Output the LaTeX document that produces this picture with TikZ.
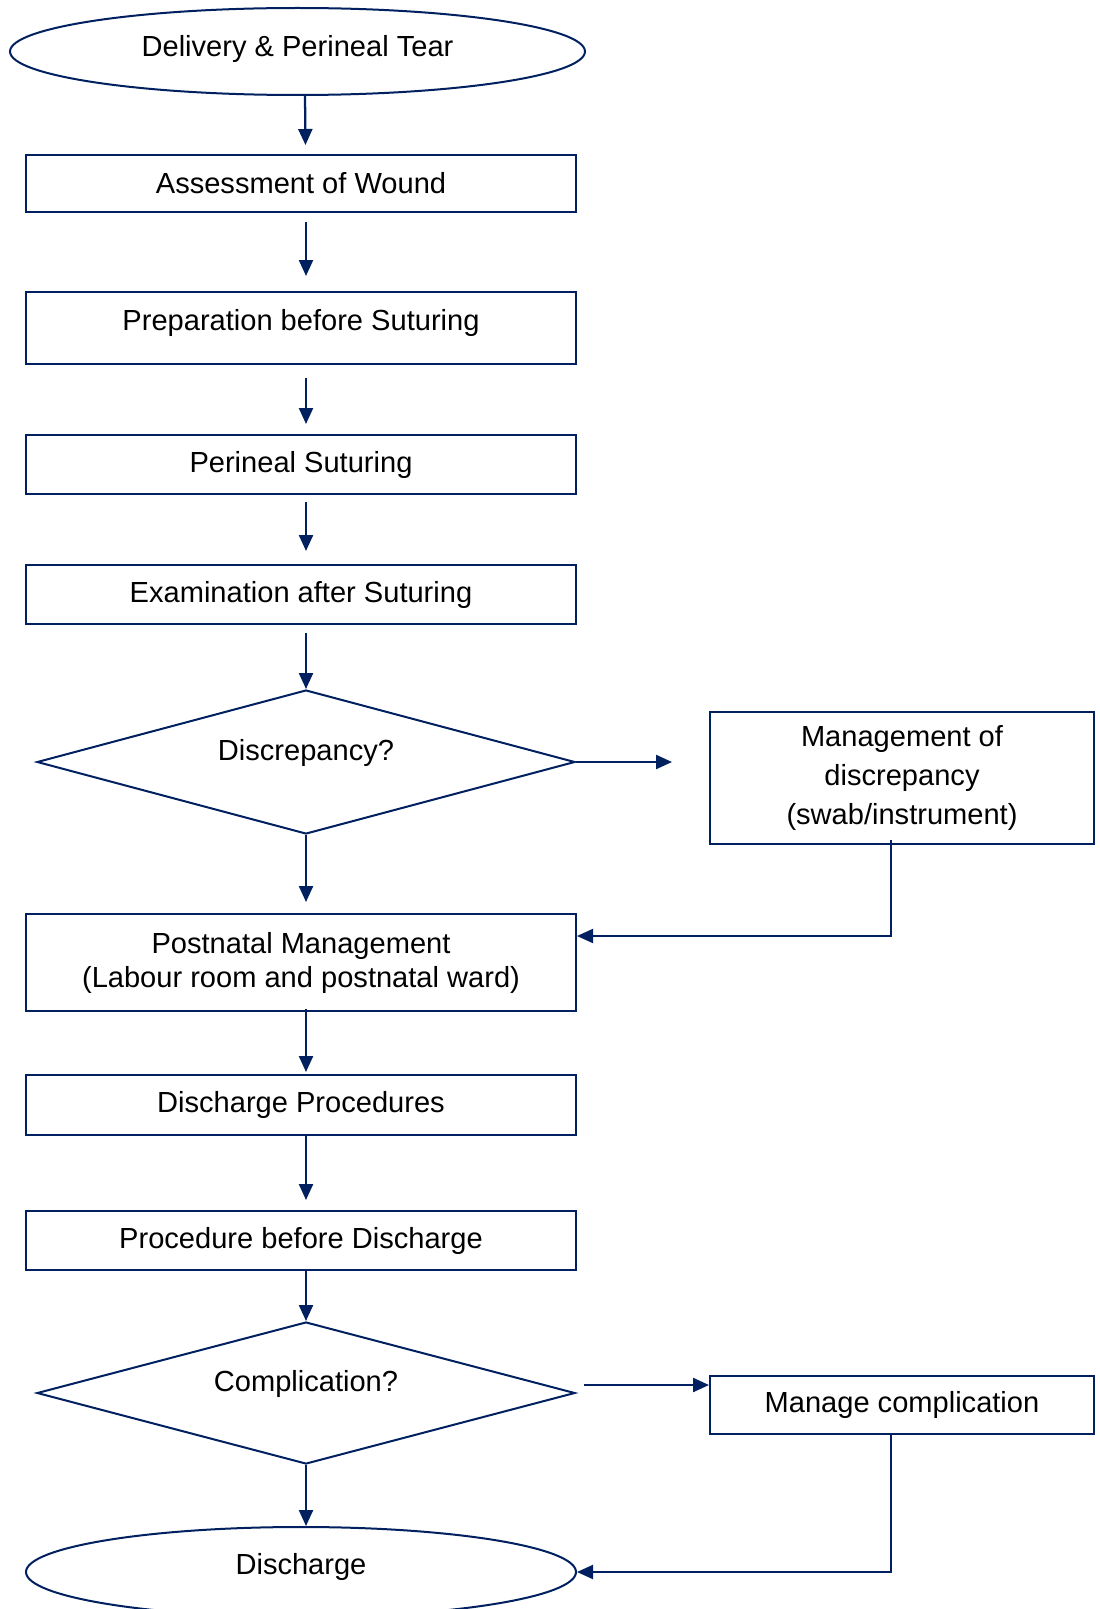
\documentclass[tikz,border=0pt]{standalone}
\usepackage{fontspec}
\setmainfont{Liberation Sans}
\usetikzlibrary{shapes.geometric,arrows.meta,calc}
\definecolor{navy}{RGB}{0,32,96}
\begin{document}
\begin{tikzpicture}[x=0.75pt,y=-0.75pt,
  every node/.style={font=\fontsize{21.8}{25.5}\selectfont, text=black},
  box/.style={draw=navy, line width=1.5pt, rectangle, inner sep=0pt, minimum width={550*0.75pt}, align=center},
  rbox/.style={draw=navy, line width=1.5pt, rectangle, inner sep=0pt, minimum width={384*0.75pt}, align=center},
  oval/.style={draw=navy, line width=1.5pt, ellipse, inner sep=0pt},
  dec/.style={draw=navy, line width=1.5pt, diamond, inner sep=0pt, minimum width={538*0.75pt}, minimum height={144*0.75pt}},
  tip/.style={-{Triangle[length=12pt,width=10.5pt]}},
  conn/.style={draw=navy, line width=1.7pt, tip},
  line/.style={draw=navy, line width=1.5pt},
]
\useasboundingbox (0,0) rectangle (1099,1609);

\node[oval, minimum width={575*0.75pt}, minimum height={87*0.75pt}] (start) at (297.5,51.5) {\raisebox{8pt}{Delivery \& Perineal Tear}};
\node[box, minimum height={57*0.75pt}] (b1) at (301,183.5) {Assessment of Wound};
\node[box, minimum height={72*0.75pt}] (b2) at (301,328) {\raisebox{12pt}{Preparation before Suturing}};
\node[box, minimum height={59*0.75pt}] (b3) at (301,464.5) {Perineal Suturing};
\node[box, minimum height={59*0.75pt}] (b4) at (301,594.5) {Examination after Suturing};
\node[dec, label={[yshift=7pt]center:Discrepancy?}] (d1) at (306,762) {};
\node[rbox, minimum height={132*0.75pt}, font=\fontsize{21.8}{29}\selectfont] (mg) at (902,778) {Management of\\discrepancy\\(swab/instrument)};
\node[box, minimum height={97*0.75pt}] (pm) at (301,962.5) {Postnatal Management\\(Labour room and postnatal ward)};
\node[box, minimum height={60*0.75pt}] (dp) at (301,1105) {Discharge Procedures};
\node[box, minimum height={59*0.75pt}] (pb) at (301,1240.5) {Procedure before Discharge};
\node[dec, minimum height={142*0.75pt}, label={[yshift=7pt]center:Complication?}] (d2) at (306,1393) {};
\node[rbox, minimum height={58*0.75pt}] (mc) at (902,1405) {Manage complication};
\node[oval, minimum width={550*0.75pt}, minimum height={90*0.75pt}] (dis) at (301,1572) {\raisebox{12pt}{Discharge}};

\draw[conn] ($(start.south)+(7.5,0)$) -- ($(b1.north)+(4.5,-9)$);
\draw[conn] ($(b1.south)+(5,9)$) -- ($(b2.north)+(5,-15)$);
\draw[conn] ($(b2.south)+(5,13)$) -- ($(b3.north)+(5,-10)$);
\draw[conn] ($(b3.south)+(5,7)$) -- ($(b4.north)+(5,-13)$);
\draw[conn] ($(b4.south -| d1.north)+(0,8)$) -- (d1.north);
\draw[conn] (d1.east) -- ($(mg.west |- d1.east)+(-37,0)$);
\draw[conn] (d1.south) -- ($(pm.north -| d1.south)+(0,-11)$);
\draw[line, tip] ($(mg.south)+(-11,-5)$) |- ($(pm.east)+(0,-26.5)$);
\draw[conn] ($(pm.south)+(5,-3)$) -- ($(dp.north)+(5,-2)$);
\draw[conn] ($(dp.south)+(5,-2)$) -- ($(pb.north)+(5,-10)$);
\draw[conn] ($(pb.south -| d2.north)$) -- (d2.north);
\draw[conn] ($(d2.east)+(8,-8)$) -- ($(mc.west)+(0,-20)$);
\draw[line, tip] ($(mc.south)+(-11,0)$) |- (dis.east);
\draw[conn] (d2.south) -- (d2.south |- dis.north);
\end{tikzpicture}
\end{document}
